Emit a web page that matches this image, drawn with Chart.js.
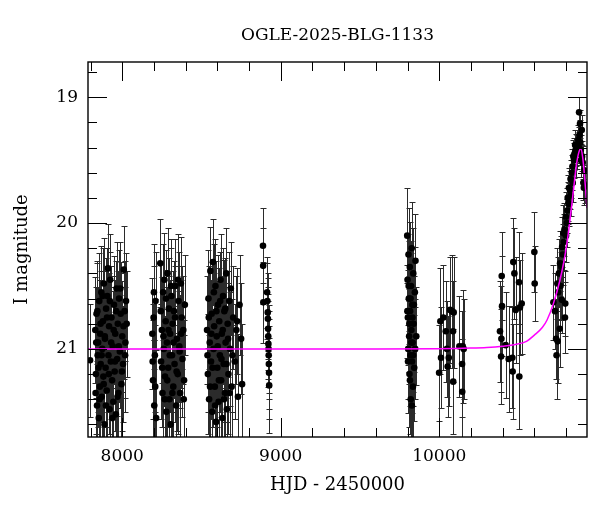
<!DOCTYPE html>
<html lang="en">
<head>
<meta charset="UTF-8">
<title>OGLE-2025-BLG-1133</title>
<script src="https://cdn.jsdelivr.net/npm/chart.js"></script>
<style>
    body {
        margin: 0;
        background: #fff;
    }
    .wrap {
        width: 600px;
        height: 512px;
    }
</style>
</head>
<body>
<div class="wrap"><canvas id="lc"></canvas></div>
<script>
// photometry: HJD - 2450000, I magnitude, error (one line per season, extra nights at the end)
const hjd = [
    7797,7830,7834,7838,7841,7845,7848,7852,7855,7858,7861,7864,7868,7871,7874,7878,7881,7884,7888,7891,7895,7898,7902,7906,7910,7913,7917,7920,7924,7928,7932,7936,7940,7944,7948,7952,7956,7960,7964,7968,7972,7976,7980,7985,7990,7995,8000,8005,8010,8015,8020,8024,8028,
    8190,8194,8198,8202,8206,8210,8214,8240,8245,8250,8254,8258,8262,8266,8270,8274,8278,8282,8286,8290,8294,8298,8302,8306,8310,8314,8318,8322,8326,8330,8335,8340,8345,8350,8355,8360,8365,8370,8375,8380,8385,8390,8395,
    8535,8540,8544,8548,8552,8556,8560,8564,8568,8572,8576,8580,8584,8588,8592,8596,8600,8604,8608,8612,8616,8620,8624,8628,8632,8636,8640,8644,8648,8652,8656,8660,8665,8670,8675,8680,8685,8690,8700,8710,8720,8730,8740,8750,8756,
    8888,8889,8890,8914,8916,8918,8919,8920,8921,8922,8923,8924,8925,8926,8927,
    9798,9800,9802,9804,9806,9808,9810,9812,9814,9816,9818,9820,9822,9824,9826,9828,9830,9832,9834,9836,9838,9842,9846,9850,9855,
    9999,10007,10011,10026,10041,10049,10053,10060,10068,10080,10087,10088,10091,10127,10144,10145,10148,10154,
    10383,10390,10392,10394,10396,10419,10438,10461,10463,10467,10474,10482,10503,10505,10509,10520,10600,10602,
    10720,10730,10737,10740,10745,10747,10750,10755,10760,10762,10765,10770,10773,10775,10780,10783,10785,10790,10793,10795,10798,10800,10804,10808,10810,10814,10818,10820,10825,10828,10830,10836,10840,10842,10846,10850,10853,10857,10860,10862,10867,10870,10872,10877,10880,10882,10885,10888,10890,10893,10896,10899,10901,10905,10909,10912,10915,10918,
    7832,7836,7843,7850,7857,7863,7870,7876,7883,7890,7897,7904,7915,7922,7930,7938,7946,7954,7962,7970,7978,7988,7998,8008,8018,
    8192,8200,8208,8243,8252,8260,8268,8276,8284,8292,8300,8308,8316,8324,8333,8343,8352,8362,8372,8388,
    8538,8546,8554,8562,8570,8578,8586,8594,8602,8610,8618,8626,8634,8642,8650,8658,8668,8678,8695,8725,
    9799,9803,9807,9811,9815,9819,9823,9827,9831,9835,9840,9848
];
const mag = [
    21.09,20.85,21.20,20.72,21.45,21.05,20.95,21.55,20.62,21.30,20.88,21.12,20.55,21.38,21.00,20.78,21.22,20.48,21.60,20.92,21.15,20.68,21.33,20.58,20.36,21.05,20.82,21.48,20.45,21.10,20.75,21.25,20.98,21.42,20.65,21.18,20.88,21.52,20.52,21.08,20.80,21.35,20.60,21.02,20.72,21.28,20.90,21.12,20.37,20.70,20.95,20.62,20.80,
    20.88,21.25,20.75,21.45,21.05,20.62,21.55,20.32,21.10,20.85,21.35,20.55,21.00,20.45,21.22,20.78,21.50,20.95,20.40,21.15,20.68,21.40,20.88,21.60,20.58,21.05,20.80,21.30,20.70,21.12,20.50,21.45,20.92,21.20,20.62,20.98,21.35,20.48,20.75,21.08,20.85,21.25,20.65,
    20.85,21.20,20.60,21.40,20.95,20.38,21.10,20.72,21.50,20.31,21.00,20.82,21.30,20.50,21.58,20.90,21.15,20.65,21.42,20.78,21.05,20.45,21.25,20.88,21.55,20.58,21.12,20.70,21.35,20.95,20.40,21.48,20.80,21.20,20.62,21.00,20.52,21.30,20.75,21.10,20.85,21.38,20.65,20.92,21.28,
    20.18,20.34,20.63,20.55,20.62,20.71,20.76,20.84,20.90,20.96,21.00,21.05,21.12,21.19,21.29,
    20.10,20.45,20.75,21.00,20.25,20.60,20.90,21.20,20.35,20.70,21.05,21.40,20.50,20.85,20.20,21.10,20.65,20.95,21.30,20.40,20.80,21.15,20.55,20.30,20.90,
    21.19,20.78,21.07,20.75,20.86,21.00,21.14,21.07,20.69,20.70,20.86,21.26,20.71,20.98,21.12,21.34,20.98,21.00,
    20.86,21.06,20.92,20.42,20.66,20.97,21.08,21.07,21.18,20.31,20.40,20.69,20.47,21.22,20.67,20.64,20.23,20.48,
    20.63,20.70,20.92,21.05,20.48,20.94,20.55,20.40,20.84,20.32,20.50,20.35,20.61,20.19,20.25,20.08,20.15,20.05,20.75,20.64,19.95,20.10,20.00,19.90,19.80,19.84,19.72,19.85,19.74,19.65,19.78,19.60,19.55,19.68,19.47,19.50,19.45,19.38,19.42,19.50,19.42,19.38,19.45,19.34,19.40,19.12,19.30,19.21,19.36,19.42,19.50,19.26,19.47,19.52,19.68,19.72,19.58,19.70,
    21.35,20.95,20.70,21.15,21.40,20.80,21.05,20.58,21.28,20.90,21.45,20.75,21.20,20.62,20.95,21.55,20.85,21.10,20.70,21.38,20.98,20.52,21.18,20.82,21.05,
    21.10,20.55,21.30,20.70,21.15,20.90,21.40,20.60,21.25,20.85,21.05,20.50,21.35,20.95,20.75,21.18,20.45,21.02,20.88,21.40,
    21.05,20.75,21.30,20.88,21.15,20.55,21.45,20.70,20.98,21.25,20.62,21.08,20.85,21.40,20.68,21.12,20.92,21.35,21.05,20.78,
    20.70,21.10,20.50,20.80,21.25,20.60,20.95,21.45,20.75,21.05,20.65,21.00
];
const magErr = [
    0.45,0.42,0.48,0.40,0.52,0.45,0.44,0.55,0.38,0.50,0.43,0.46,0.37,0.50,0.45,0.40,0.48,0.36,0.55,0.43,0.47,0.40,0.50,0.38,0.35,0.45,0.42,0.52,0.36,0.46,0.41,0.48,0.44,0.50,0.39,0.47,0.43,0.53,0.37,0.45,0.42,0.50,0.39,0.45,0.41,0.49,0.44,0.46,0.35,0.40,0.44,0.38,0.42,
    0.44,0.48,0.41,0.52,0.45,0.39,0.55,0.35,0.46,0.42,0.50,0.38,0.45,0.37,0.48,0.41,0.53,0.44,0.36,0.47,0.40,0.51,0.43,0.56,0.38,0.45,0.42,0.49,0.40,0.46,0.37,0.52,0.44,0.48,0.39,0.44,0.50,0.37,0.41,0.46,0.43,0.48,0.40,
    0.43,0.48,0.39,0.51,0.44,0.35,0.46,0.41,0.53,0.34,0.45,0.42,0.49,0.37,0.55,0.44,0.47,0.40,0.52,0.42,0.45,0.36,0.48,0.43,0.54,0.38,0.46,0.41,0.50,0.44,0.36,0.52,0.42,0.48,0.39,0.45,0.37,0.49,0.41,0.46,0.43,0.50,0.40,0.44,0.48,
    0.30,0.30,0.32,0.28,0.30,0.31,0.32,0.33,0.34,0.34,0.35,0.35,0.36,0.37,0.38,
    0.38,0.36,0.38,0.40,0.37,0.36,0.38,0.42,0.36,0.37,0.40,0.45,0.36,0.38,0.37,0.41,0.37,0.39,0.44,0.36,0.38,0.42,0.36,0.37,0.39,
    0.38,0.42,0.40,0.42,0.40,0.38,0.40,0.38,0.42,0.45,0.40,0.42,0.44,0.40,0.42,0.42,0.45,0.40,
    0.40,0.38,0.42,0.35,0.40,0.42,0.42,0.40,0.38,0.35,0.36,0.42,0.40,0.42,0.38,0.40,0.32,0.30,
    0.30,0.30,0.32,0.35,0.28,0.33,0.28,0.27,0.30,0.26,0.27,0.25,0.26,0.24,0.24,0.22,0.22,0.21,0.28,0.26,0.20,0.21,0.19,0.18,0.18,0.17,0.16,0.17,0.15,0.15,0.16,0.14,0.14,0.15,0.13,0.14,0.13,0.12,0.13,0.13,0.12,0.12,0.12,0.12,0.12,0.12,0.12,0.11,0.12,0.12,0.13,0.12,0.12,0.13,0.14,0.14,0.13,0.14,
    0.50,0.44,0.40,0.47,0.51,0.42,0.45,0.38,0.49,0.44,0.52,0.41,0.48,0.39,0.44,0.55,0.43,0.46,0.40,0.50,0.44,0.37,0.47,0.42,0.45,
    0.46,0.38,0.49,0.40,0.47,0.44,0.51,0.39,0.48,0.43,0.45,0.37,0.50,0.44,0.41,0.47,0.36,0.45,0.43,0.51,
    0.45,0.41,0.49,0.43,0.47,0.38,0.52,0.40,0.44,0.48,0.39,0.46,0.43,0.51,0.40,0.46,0.44,0.50,0.45,0.42,
    0.37,0.41,0.36,0.38,0.43,0.36,0.39,0.46,0.37,0.40,0.37,0.40
];

// model light curve (magenta)
const modelHjd = [7784, 8500, 9000, 9500, 10000, 10200, 10300, 10400, 10480, 10550, 10600, 10650, 10680, 10720, 10760, 10790, 10810, 10830, 10850, 10865, 10880, 10893, 10905, 10918, 10932];
const modelMag = [21.00, 21.00, 21.00, 21.00, 20.998, 20.993, 20.988, 20.978, 20.965, 20.94, 20.89, 20.83, 20.77, 20.64, 20.46, 20.28, 20.12, 19.92, 19.70, 19.54, 19.44, 19.41, 19.48, 19.65, 19.88];

// labelled ticks
const xTicks = [8000, 9000, 10000];
const yTicks = [19, 20, 21];

const serif = '"DejaVu Serif", serif';

// vertical error bars with little caps, drawn under the points
const errorBars = {
    id: 'errorBars',
    beforeDatasetsDraw(chart) {
        const {ctx, chartArea: a, scales: {x, y}} = chart;
        ctx.save();
        ctx.beginPath();
        ctx.rect(a.left, a.top, a.right - a.left, a.bottom - a.top);
        ctx.clip();
        ctx.strokeStyle = '#2b2b2b';
        ctx.lineWidth = 1;
        ctx.beginPath();
        hjd.forEach((t, i) => {
            const px = Math.round(x.getPixelForValue(t)) + 0.5;
            const y1 = Math.round(y.getPixelForValue(mag[i] - magErr[i])) + 0.5;
            const y2 = Math.round(y.getPixelForValue(mag[i] + magErr[i])) + 0.5;
            ctx.moveTo(px, y1); ctx.lineTo(px, y2);
            ctx.moveTo(px - 3, y1); ctx.lineTo(px + 3, y1);
            ctx.moveTo(px - 3, y2); ctx.lineTo(px + 3, y2);
        });
        ctx.stroke();
        ctx.restore();
    }
};

// box around the plot and inward ticks on all four sides
const frameTicks = {
    id: 'frameTicks',
    afterDatasetsDraw(chart) {
        const {ctx, chartArea: a, scales: {x, y}} = chart;
        ctx.save();
        ctx.strokeStyle = '#000';
        ctx.lineWidth = 1.4;
        ctx.strokeRect(a.left, a.top, a.right - a.left, a.bottom - a.top);
        ctx.lineWidth = 1;
        ctx.beginPath();
        for (let i = 0; i <= 15; i++) {
            const v = 7800 + i * 200;
            const px = Math.round(x.getPixelForValue(v)) + 0.5;
            const len = v % 1000 === 0 ? 19 : 9;
            ctx.moveTo(px, a.bottom); ctx.lineTo(px, a.bottom - len);
            ctx.moveTo(px, a.top); ctx.lineTo(px, a.top + len);
        }
        for (let i = 0; i <= 14; i++) {
            const v = 18.8 + i * 0.2;
            const py = Math.round(y.getPixelForValue(v)) + 0.5;
            const len = Math.abs(v - Math.round(v)) < 1e-6 ? 19 : 9;
            ctx.moveTo(a.left, py); ctx.lineTo(a.left + len, py);
            ctx.moveTo(a.right, py); ctx.lineTo(a.right - len, py);
        }
        ctx.stroke();
        ctx.restore();
    }
};

new Chart(document.getElementById('lc'), {
    type: 'scatter',
    data: {
        datasets: [{
            label: 'model',
            data: modelHjd.map((t, i) => ({x: t, y: modelMag[i]})),
            showLine: true,
            borderColor: '#ff00ff',
            borderWidth: 1.5,
            pointRadius: 0,
            cubicInterpolationMode: 'monotone',
            order: 0
        }, {
            label: 'OGLE',
            data: hjd.map((t, i) => ({x: t, y: mag[i]})),
            backgroundColor: '#000',
            borderColor: '#000',
            pointRadius: 3.3,
            borderWidth: 0,
            order: 1
        }]
    },
    options: {
        responsive: true,
        maintainAspectRatio: false,
        animation: false,
        layout: {padding: {left: 0, right: 13, top: 0, bottom: 0}},
        plugins: {
            legend: {display: false},
            tooltip: {enabled: false},
            title: {
                display: true,
                fullSize: false,
                text: 'OGLE-2025-BLG-1133',
                color: '#000',
                font: {family: serif, size: 17, weight: 'normal'},
                padding: {top: 25, bottom: 16.6}
            }
        },
        scales: {
            x: {
                type: 'linear',
                min: 7784,
                max: 10932,
                afterBuildTicks: s => { s.ticks = xTicks.map(v => ({value: v})); },
                afterFit: s => { s.height = 75; },
                grid: {display: false, drawTicks: false},
                border: {display: false},
                ticks: {
                    color: '#000',
                    font: {family: serif, size: 17},
                    padding: 9,
                    maxRotation: 0,
                    callback: v => String(v)
                },
                title: {
                    display: true,
                    text: 'HJD - 2450000',
                    color: '#000',
                    font: {family: serif, size: 18},
                    padding: {top: 0, bottom: 16}
                }
            },
            y: {
                type: 'linear',
                reverse: true,
                min: 18.72,
                max: 21.70,
                afterBuildTicks: s => { s.ticks = yTicks.map(v => ({value: v})); },
                afterFit: s => { s.width = 88; },
                grid: {display: false, drawTicks: false},
                border: {display: false},
                ticks: {
                    color: '#000',
                    font: {family: serif, size: 17},
                    padding: 10,
                    callback: v => String(v)
                },
                title: {
                    display: true,
                    text: 'I magnitude',
                    color: '#000',
                    font: {family: serif, size: 18},
                    padding: {top: 12, bottom: 0}
                }
            }
        }
    },
    plugins: [errorBars, frameTicks]
});
</script>
</body>
</html>
